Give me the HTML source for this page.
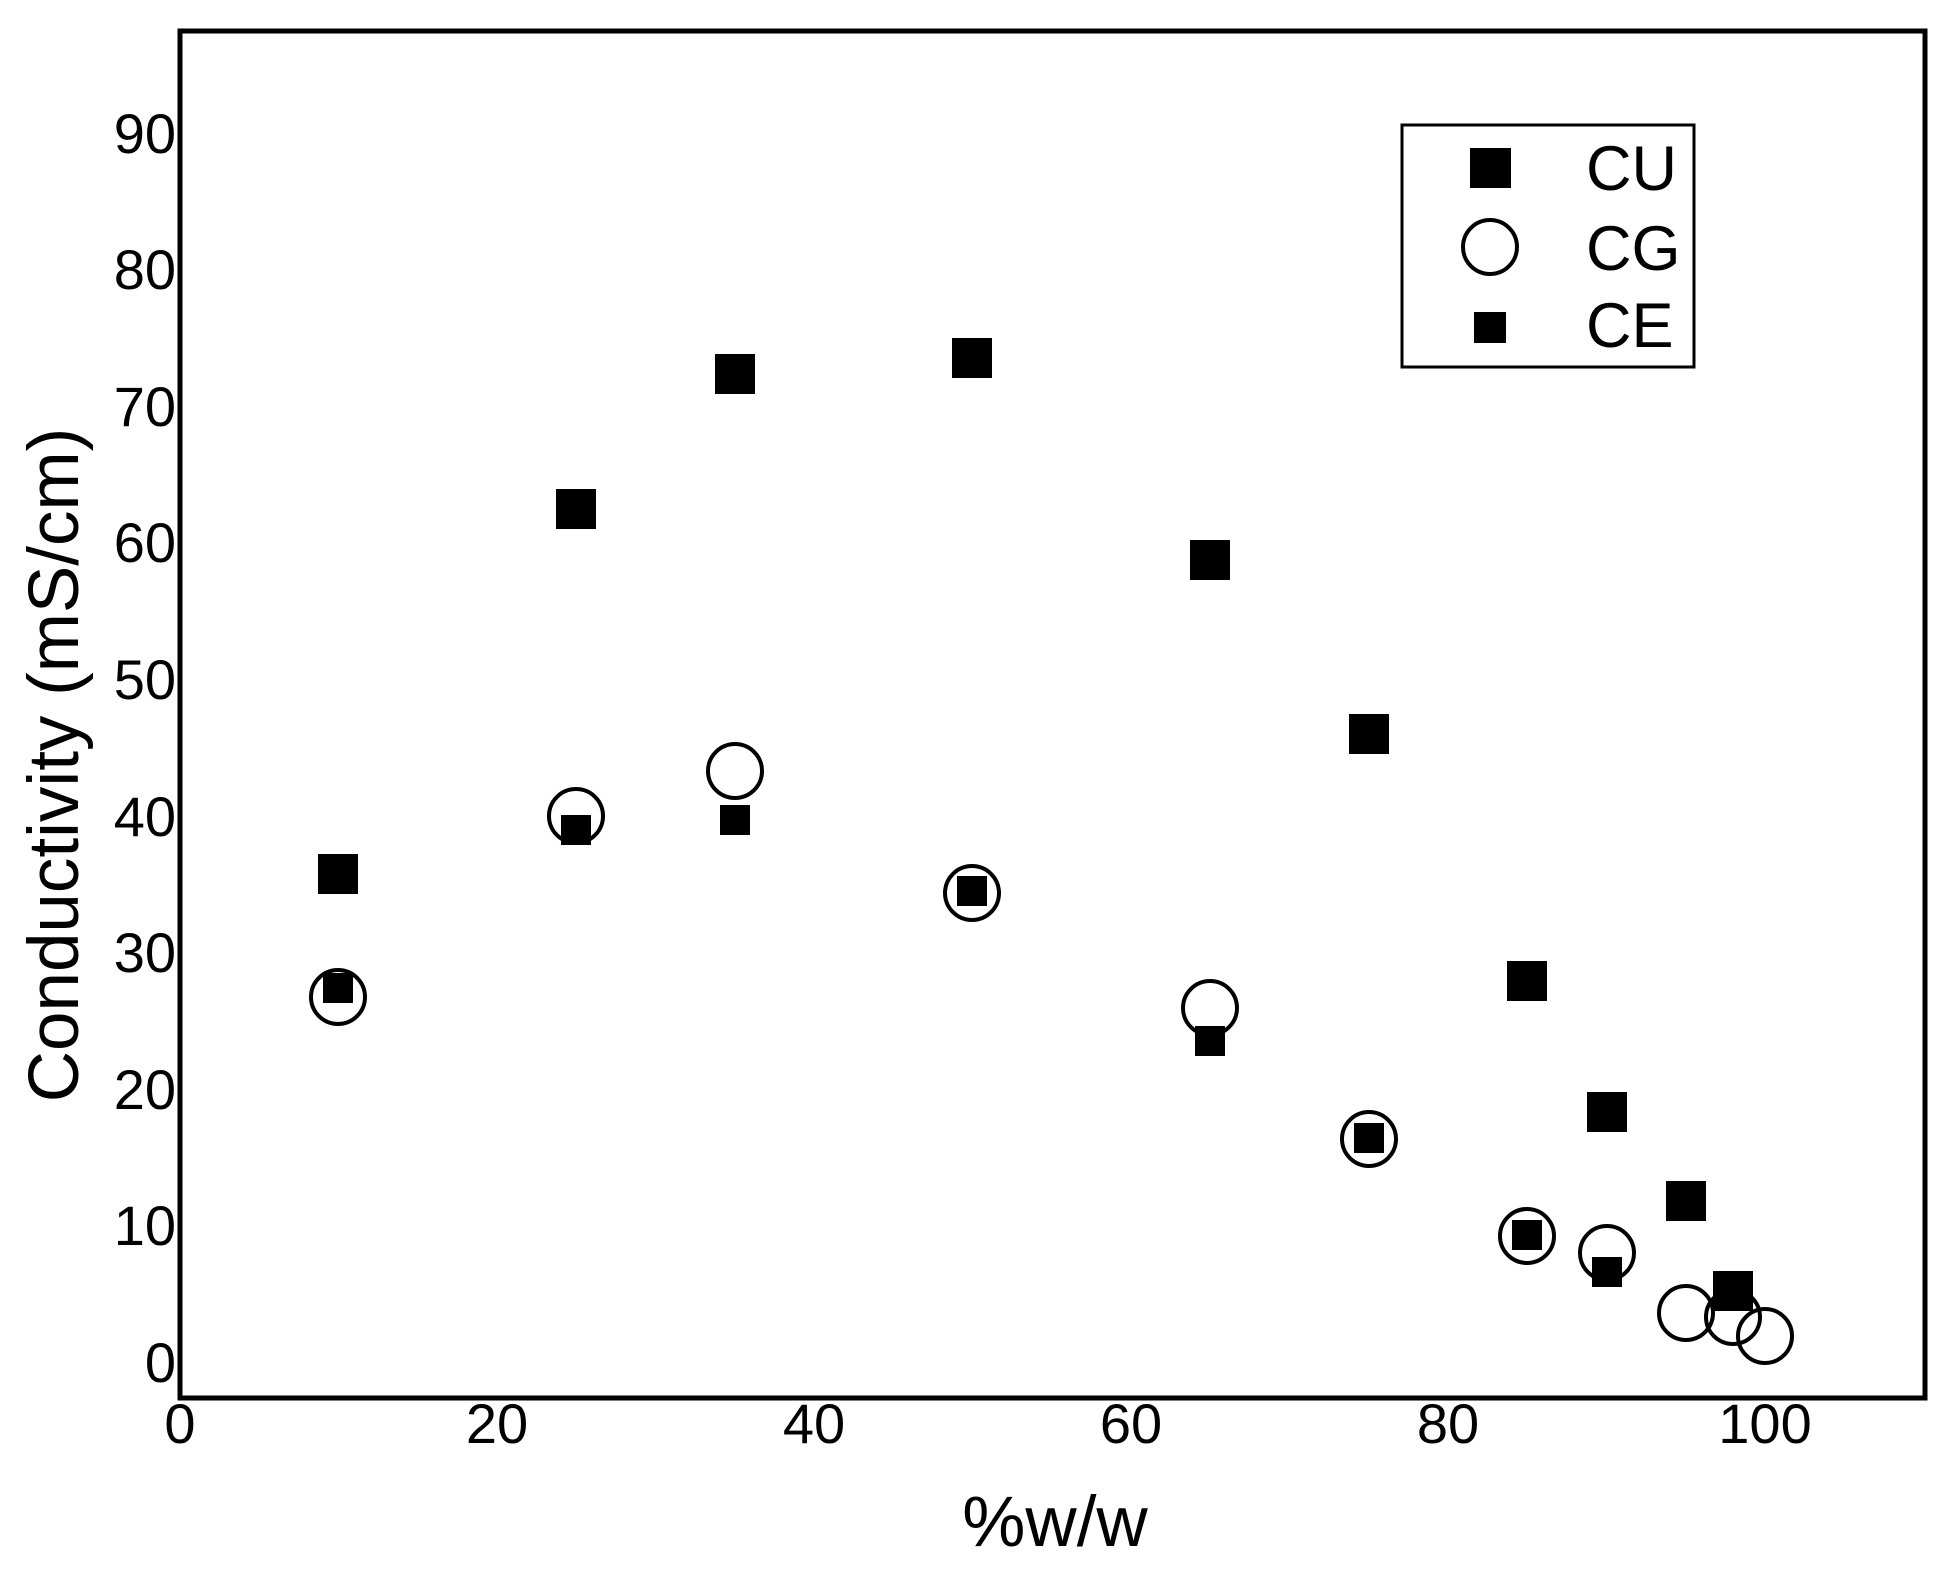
<!DOCTYPE html>
<html><head><meta charset="utf-8"><style>html,body{margin:0;padding:0;background:#fff}</style></head>
<body>
<svg width="1950" height="1576" viewBox="0 0 1950 1576" xmlns="http://www.w3.org/2000/svg" font-family="Liberation Sans, sans-serif">
<rect x="0" y="0" width="1950" height="1576" fill="#fff"/>
<rect x="180" y="31" width="1745" height="1367" fill="none" stroke="#000" stroke-width="5"/>
<g font-size="56" text-anchor="end" fill="#000">
<text x="176" y="1382">0</text>
<text x="176" y="1245">10</text>
<text x="176" y="1109">20</text>
<text x="176" y="972">30</text>
<text x="176" y="836">40</text>
<text x="176" y="699">50</text>
<text x="176" y="562">60</text>
<text x="176" y="426">70</text>
<text x="176" y="289">80</text>
<text x="176" y="153">90</text>
</g>
<g font-size="56" text-anchor="middle" fill="#000">
<text x="180" y="1443">0</text>
<text x="497" y="1443">20</text>
<text x="814" y="1443">40</text>
<text x="1131" y="1443">60</text>
<text x="1448" y="1443">80</text>
<text x="1765" y="1443">100</text>
</g>
<text x="1055" y="1546" font-size="71" text-anchor="middle">%w/w</text>
<text transform="translate(78,765) rotate(-90)" font-size="71" text-anchor="middle">Conductivity (mS/cm)</text>
<g fill="#000">
<!-- CU -->
<rect x="318" y="854" width="40" height="40"/>
<rect x="556" y="489" width="40" height="40"/>
<rect x="715" y="354" width="40" height="40"/>
<rect x="952" y="338" width="40" height="40"/>
<rect x="1190" y="540" width="40" height="40"/>
<rect x="1349" y="714" width="40" height="40"/>
<rect x="1507" y="961" width="40" height="40"/>
<rect x="1587" y="1092" width="40" height="40"/>
<rect x="1666" y="1181" width="40" height="40"/>
<rect x="1713" y="1271" width="40" height="40"/>
</g>
<g fill="none" stroke="#000" stroke-width="4">
<!-- CG -->
<circle cx="338" cy="997" r="27"/>
<circle cx="576" cy="816" r="27"/>
<circle cx="735" cy="771" r="27"/>
<circle cx="972" cy="893" r="27"/>
<circle cx="1210" cy="1008" r="27"/>
<circle cx="1369" cy="1139" r="27"/>
<circle cx="1527" cy="1236" r="27"/>
<circle cx="1607" cy="1253" r="27"/>
<circle cx="1686" cy="1313" r="27"/>
<circle cx="1733" cy="1317" r="27"/>
<circle cx="1765" cy="1336" r="27"/>
</g>
<g fill="#000">
<!-- CE -->
<rect x="323" y="973" width="30" height="30"/>
<rect x="561" y="815" width="30" height="30"/>
<rect x="720" y="805" width="30" height="30"/>
<rect x="957" y="876" width="30" height="30"/>
<rect x="1195" y="1026" width="30" height="30"/>
<rect x="1354" y="1123" width="30" height="30"/>
<rect x="1512" y="1220" width="30" height="30"/>
<rect x="1592" y="1257" width="30" height="30"/>
</g>
<rect x="1402" y="125" width="292" height="242" fill="none" stroke="#000" stroke-width="3"/>
<rect x="1470" y="148" width="41" height="40" fill="#000"/>
<circle cx="1490" cy="247" r="27" fill="none" stroke="#000" stroke-width="4"/>
<rect x="1474" y="312" width="32" height="31" fill="#000"/>
<g font-size="63" fill="#000">
<text x="1586" y="190">CU</text>
<text x="1586" y="270">CG</text>
<text x="1586" y="347">CE</text>
</g>
</svg>
</body></html>
